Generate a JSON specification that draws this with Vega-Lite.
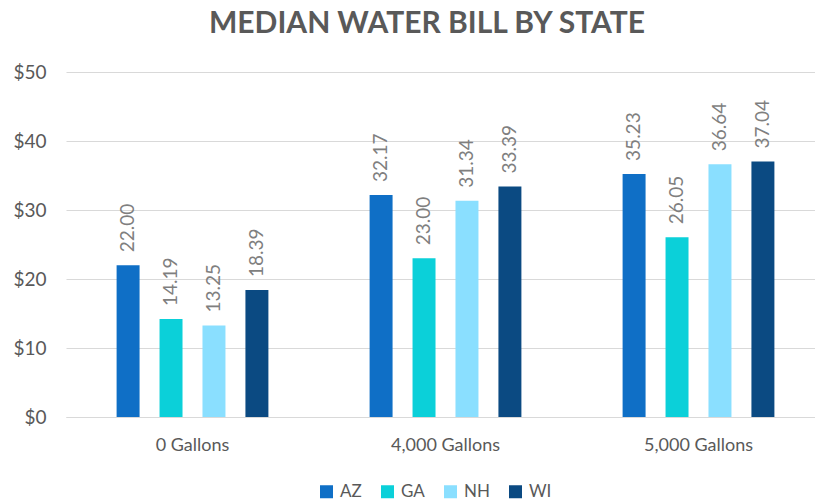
{
  "$schema": "https://vega.github.io/schema/vega-lite/v6.json",
  "width": 746,
  "height": 345,
  "autosize": {"type": "none"},
  "padding": {"left": 66, "top": 72, "right": 3, "bottom": 87},
  "background": "white",
  "config": {"view": {"stroke": null}},
  "title": {
    "text": "MEDIAN WATER BILL BY STATE",
    "font": "Lato",
    "fontSize": 30,
    "fontWeight": "bold",
    "color": "#595959",
    "anchor": "middle",
    "offset": 24,
    "dx": -12
  },
  "data": {
    "values": [
      {"usage": "0 Gallons", "state": "AZ", "bill": 22.00},
      {"usage": "0 Gallons", "state": "GA", "bill": 14.19},
      {"usage": "0 Gallons", "state": "NH", "bill": 13.25},
      {"usage": "0 Gallons", "state": "WI", "bill": 18.39},
      {"usage": "4,000 Gallons", "state": "AZ", "bill": 32.17},
      {"usage": "4,000 Gallons", "state": "GA", "bill": 23.00},
      {"usage": "4,000 Gallons", "state": "NH", "bill": 31.34},
      {"usage": "4,000 Gallons", "state": "WI", "bill": 33.39},
      {"usage": "5,000 Gallons", "state": "AZ", "bill": 35.23},
      {"usage": "5,000 Gallons", "state": "GA", "bill": 26.05},
      {"usage": "5,000 Gallons", "state": "NH", "bill": 36.64},
      {"usage": "5,000 Gallons", "state": "WI", "bill": 37.04}
    ]
  },
  "encoding": {
    "x": {
      "field": "usage",
      "type": "nominal",
      "sort": ["0 Gallons", "4,000 Gallons", "5,000 Gallons"],
      "scale": {"range": [0, 759], "paddingInner": 0.4, "paddingOuter": 0.2},
      "axis": {
        "title": null,
        "labelAngle": 0,
        "labelFont": "Lato",
        "labelFontSize": 18,
        "labelColor": "#595959",
        "labelPadding": 19,
        "labelDx": 5,
        "ticks": false,
        "domainColor": "#d9d9d9",
        "domainWidth": 1
      }
    },
    "xOffset": {
      "field": "state",
      "type": "nominal",
      "sort": ["AZ", "GA", "NH", "WI"],
      "scale": {"paddingInner": 0.465, "paddingOuter": 0}
    },
    "y": {
      "field": "bill",
      "type": "quantitative",
      "scale": {"domain": [0, 50], "nice": false},
      "axis": {
        "title": null,
        "values": [0, 10, 20, 30, 40, 50],
        "format": "$,.0f",
        "labelFont": "Lato",
        "labelFontSize": 19,
        "labelColor": "#595959",
        "labelPadding": 20,
        "ticks": false,
        "domain": false,
        "gridColor": "#d9d9d9",
        "gridWidth": 1
      }
    }
  },
  "layer": [
    {
      "mark": {"type": "bar"},
      "encoding": {
        "color": {
          "field": "state",
          "type": "nominal",
          "sort": ["AZ", "GA", "NH", "WI"],
          "scale": {
            "domain": ["AZ", "GA", "NH", "WI"],
            "range": ["#0F6FC6", "#0BD0D9", "#8ADFFF", "#0B4A82"]
          },
          "legend": {
            "title": null,
            "orient": "none",
            "direction": "horizontal",
            "legendX": 252,
            "legendY": 411,
            "symbolType": "square",
            "symbolSize": 169,
            "symbolStrokeWidth": 0,
            "labelFont": "Lato",
            "labelFontSize": 17,
            "labelColor": "#595959",
            "labelOffset": 5,
            "columnPadding": 17
          }
        }
      }
    },
    {
      "mark": {
        "type": "text",
        "angle": -90,
        "align": "left",
        "baseline": "middle",
        "dx": 13,
        "font": "Lato",
        "fontSize": 19,
        "color": "#7f7f7f"
      },
      "encoding": {
        "text": {"field": "bill", "type": "quantitative", "format": ".2f"}
      }
    }
  ]
}
